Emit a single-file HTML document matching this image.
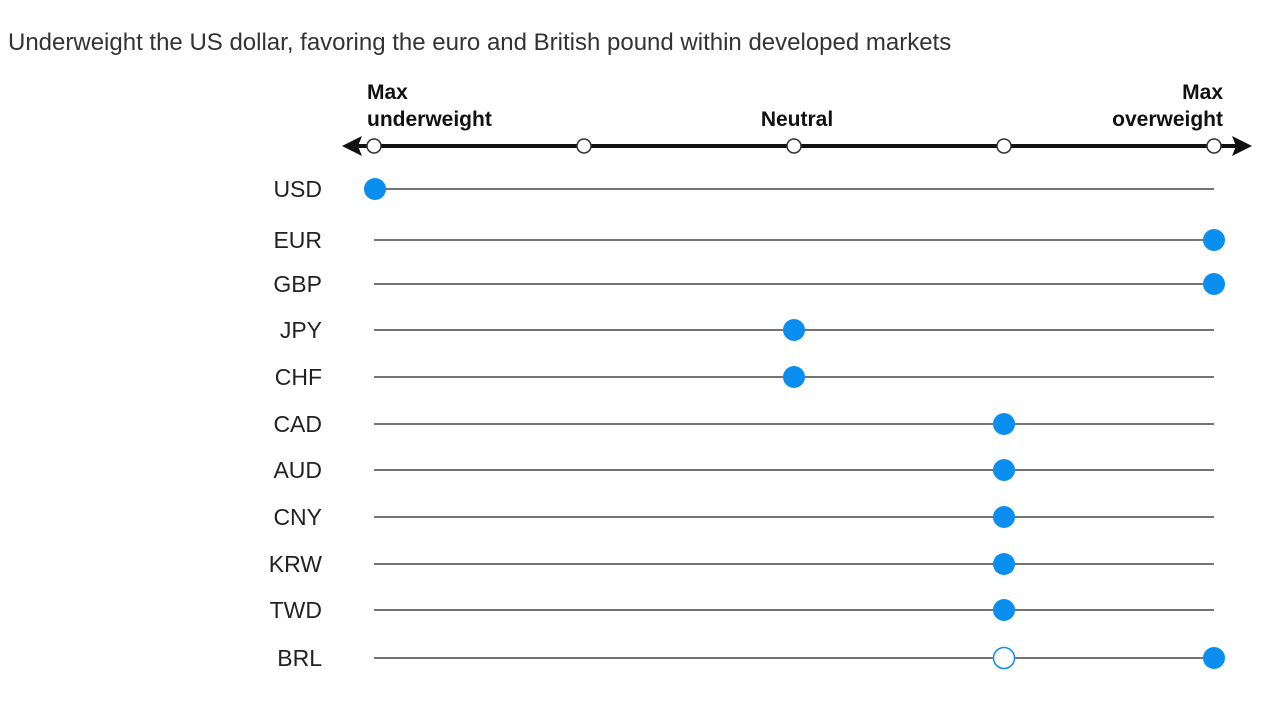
<!DOCTYPE html>
<html><head><meta charset="utf-8"><style>
body{margin:0;background:#fff;width:1280px;height:720px;overflow:hidden;font-family:"Liberation Sans",sans-serif}
</style></head><body>
<svg id="c" width="1280" height="720">
<text x="8" y="50" font-size="24" fill="#333">Underweight the US dollar, favoring the euro and British pound within developed markets</text>
</svg>
<script>
const categories=["USD","EUR","GBP","JPY","CHF","CAD","AUD","CNY","KRW","TWD","BRL"];
const positions=[-2,2,2,0,0,1,1,1,1,1,2];
const previous=[null,null,null,null,null,null,null,null,null,null,1];
const tickLabels=["Max underweight","","Neutral","","Max overweight"];
const tickValues=[-2,-1,0,1,2];
const svg=document.getElementById('c');
const NS="http://www.w3.org/2000/svg";
const xs=v=>794+v*210;
const rowY=[189,240,284,330,377,424,470,517,564,610,658];
const ys=i=>rowY[i]!==undefined?rowY[i]:189+i*47;
function mk(t,a){const e=document.createElementNS(NS,t);for(const k in a)e.setAttribute(k,a[k]);svg.appendChild(e);return e;}
let e=mk('line',{x1:352,y1:146,x2:1240,y2:146,stroke:'#111','stroke-width':4});


e=mk('polygon',{points:'342,146 362,136 358,146 362,156',fill:'#111'});


e=mk('polygon',{points:'1252,146 1232,136 1236,146 1232,156',fill:'#111'});


tickValues.forEach((v,i)=>{
  e=mk('circle',{cx:xs(v),cy:146,r:7,fill:'#fff',stroke:'#333','stroke-width':1.5});
  
  
});
function lbl(lines,x,anchor){
  lines.forEach((l,j)=>{
    const t=mk('text',{x:x,y:lines.length==2?(99+j*27):126,'font-size':21,'font-weight':'bold',fill:'#111','text-anchor':anchor});
    t.textContent=l;
    
    
  });
}
lbl(["Max","underweight"],xs(-2)-7,'start');
lbl(["Neutral"],xs(0)+3,'middle');
lbl(["Max","overweight"],xs(2)+9,'end');
categories.forEach((c,i)=>{
  const y=ys(i);
  let l=mk('line',{x1:xs(-2),y1:y,x2:xs(2),y2:y,stroke:'#222','stroke-width':1.2});
  
  
  let t=mk('text',{x:322,y:y+8,'font-size':23,fill:'#222','text-anchor':'end'});
  t.textContent=c;
  
  
  if(previous[i]!==null){
    let p=mk('circle',{cx:xs(previous[i]),cy:y,r:10.5,fill:'#fff',stroke:'#0a8ef0','stroke-width':1.5});
    
    
  }
  let d=mk('circle',{cx:xs(positions[i])+(positions[i]==-2?1:0),cy:y,r:11,fill:'#0a8ef0'});
  
  
});
</script>
</body></html>
